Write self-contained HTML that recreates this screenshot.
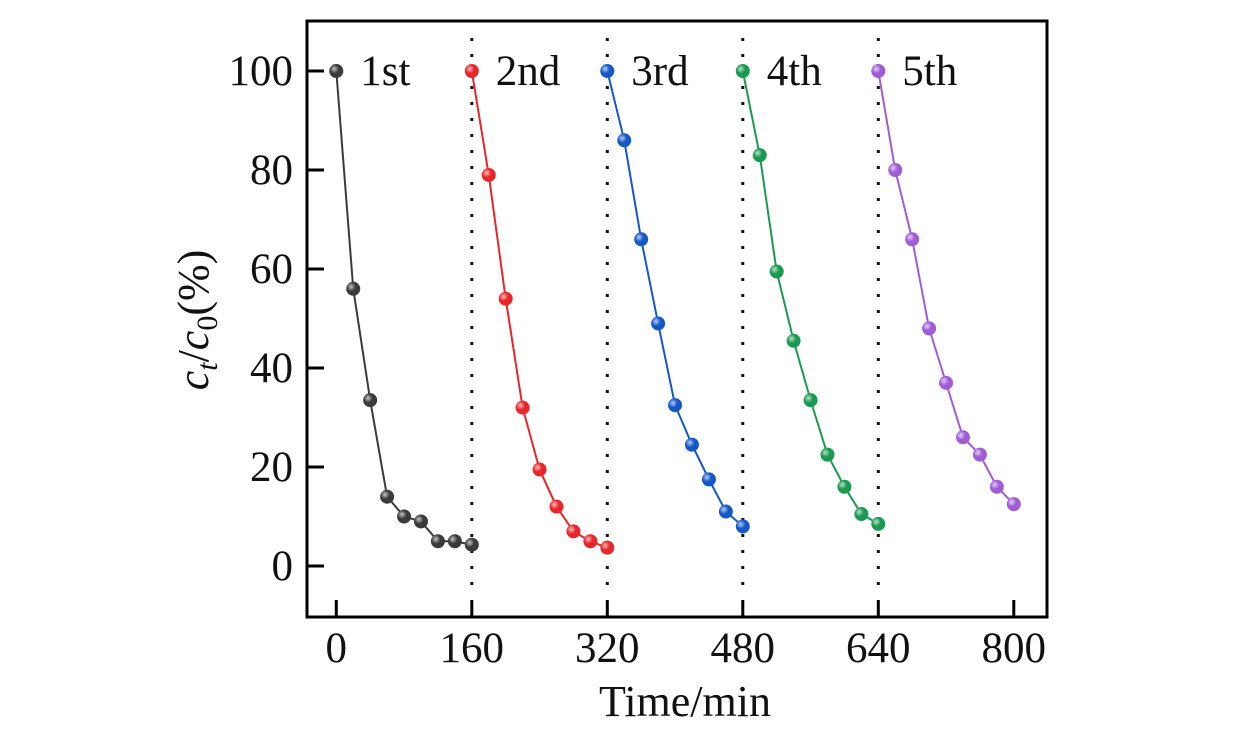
<!DOCTYPE html>
<html><head><meta charset="utf-8"><style>
body{margin:0;background:#fff}
text{font-family:"Liberation Serif",serif;fill:#111}
</style></head><body>
<svg width="1260" height="724" viewBox="0 0 1260 724">
<defs>
<radialGradient id="g" cx="35%" cy="35%" r="65%"><stop offset="0" stop-color="#fff" stop-opacity="0.7"/><stop offset="0.5" stop-color="#fff" stop-opacity="0"/></radialGradient>
</defs>
<g id="plot"></g>
<text x="685" y="716" font-size="44" text-anchor="middle">Time/min</text>
<text transform="translate(208,320) rotate(-90)" font-size="44" text-anchor="middle"><tspan font-style="italic">c</tspan><tspan font-style="italic" font-size="30" dy="9">t</tspan><tspan dy="-9">/</tspan><tspan font-style="italic">c</tspan><tspan font-size="30" dy="9">0</tspan><tspan dy="-9">(%)</tspan></text>
</svg>
<script>
const runs=["1st","2nd","3rd","4th","5th"];
const colors=["#3a3a3a","#e8262a","#1458c8","#1a9a50","#a05cd6"];
const run1=[100,56,33.5,14,10,9,5,5,4.3];
const run2=[100,79,54,32,19.5,12,7,5,3.7];
const run3=[100,86,66,49,32.5,24.5,17.5,11,8];
const run4=[100,83,59.5,45.5,33.5,22.5,16,10.5,8.5];
const run5=[100,80,66,48,37,26,22.5,16,12.5];
const series=[run1,run2,run3,run4,run5];
const xTicks=[0,160,320,480,640,800];
const yTicks=[0,20,40,60,80,100];
const dividers=[160,320,480,640];
const step=20, cycle=160;
const NS="http://www.w3.org/2000/svg";
const L=307,R=1047,T=21,B=617;
const X=v=>336.3+v*(135.5/160);
const Y=v=>566-v*4.95;
const g=document.getElementById('plot');
function mk(t,a){const e=document.createElementNS(NS,t);for(const k in a)e.setAttribute(k,a[k]);g.appendChild(e);return e;}
dividers.forEach(d=>{const e=mk('line',{x1:X(d),x2:X(d),y1:38,y2:590,stroke:'#111','stroke-width':3,'stroke-dasharray':'3 13'});

});
series.forEach((s,i)=>{
 const pts=s.map((v,j)=>[X(i*cycle+j*step),Y(v)]);
 const pl=mk('polyline',{points:pts.map(p=>p.join(',')).join(' '),fill:'none',stroke:colors[i],'stroke-width':2});
 
 
 pts.forEach(p=>{const c=mk('circle',{cx:p[0],cy:p[1],r:7,fill:colors[i]});
 
 
 mk('circle',{cx:p[0],cy:p[1],r:7,fill:'url(#g)'});});
 const t=mk('text',{x:X(i*cycle)+24,y:Y(100)+14,'font-size':43});t.textContent=runs[i];
 
 
});
const f=mk('rect',{x:L,y:T,width:R-L,height:B-T,fill:'none',stroke:'#000','stroke-width':3});


xTicks.forEach(v=>{mk('line',{x1:X(v),x2:X(v),y1:B,y2:B-17,stroke:'#000','stroke-width':3});
 const t=mk('text',{x:X(v),y:662,'font-size':43,'text-anchor':'middle'});t.textContent=v;
 
 });
yTicks.forEach(v=>{mk('line',{x1:L,x2:L+17,y1:Y(v),y2:Y(v),stroke:'#000','stroke-width':3});
 const t=mk('text',{x:293,y:Y(v)+14,'font-size':43,'text-anchor':'end'});t.textContent=v;
 
 });
</script>
</body></html>
